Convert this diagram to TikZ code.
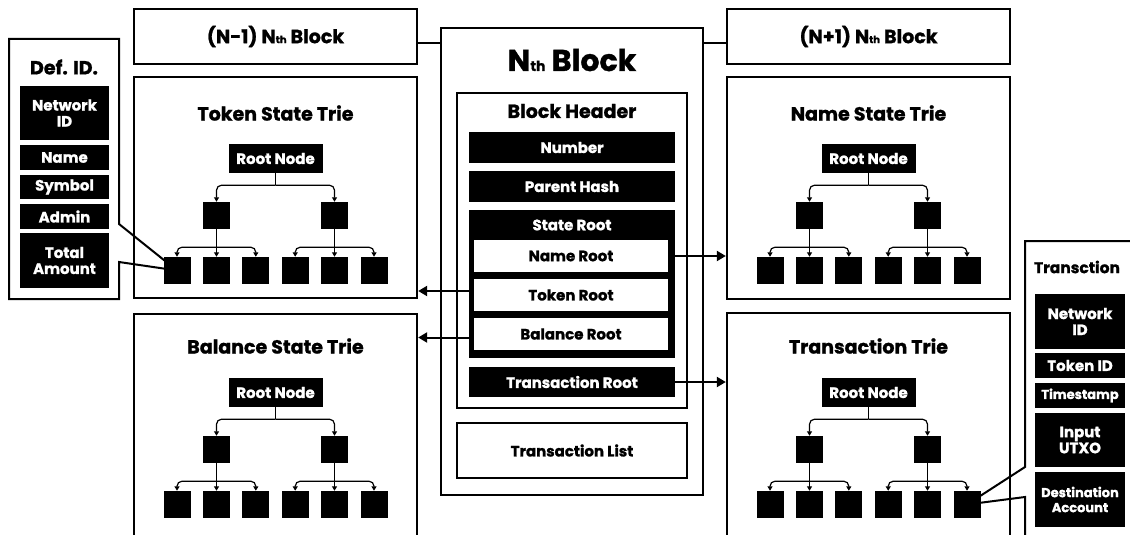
\documentclass[tikz,border=0pt]{standalone}
\usepackage{fontspec}
\setmainfont{Poppins}[BoldFeatures={FakeBold=1.2}]
\usetikzlibrary{arrows.meta}
\pgfdeclarelayer{bg}
\pgfsetlayers{bg,main}
\newcommand{\myttl}{\fontsize{19}{21}\selectfont\bfseries}
\newcommand{\mylab}{\fontsize{15}{16}\selectfont\bfseries}
\newcommand{\mysml}{\fontsize{13}{15}\selectfont\bfseries}
\newcommand{\myth}[1]{{\fontsize{#1}{#1}\selectfont th}}
\tikzset{
  frame/.style={draw, line width=2.3pt, inner sep=0pt},
  thinframe/.style={draw, line width=2pt, inner sep=0pt},
  blk/.style={fill=black, text=white, inner sep=0pt, font=\mylab, align=center},
  leafbox/.style={fill=black, minimum width=27pt, minimum height=27pt, inner sep=0pt},
  rootnode/.style={blk, minimum width=94pt, minimum height=29pt},
  tline/.style={line width=1.2pt},
  tarr/.style={line width=1.2pt, -{Triangle[length=4.5pt,width=5pt]}},
  bigarr/.style={line width=2pt, -{Triangle[length=9pt,width=10pt]}},
  ttlnode/.style={font=\myttl, inner sep=0pt},
}
\newcommand{\mytrie}[3]{%
  \node[rootnode] (#1root) at (#2,{158.5+#3}) {Root Node};
  \node[leafbox] (#1m1) at ({#2-59},{215.5+#3}) {};
  \node[leafbox] (#1m2) at ({#2+59},{215.5+#3}) {};
  \foreach \i/\dx in {1/-98.5,2/-59,3/-19.7,4/19.7,5/59,6/98.5}
    \node[leafbox] (#1l\i) at ({#2+(\dx)},{270.5+#3}) {};
  \draw[tline] (#1root.south) -- ([yshift=-12pt]#1root.south);
  \draw[tarr, rounded corners=5pt] ([yshift=-12pt]#1root.south) -| (#1m1.north);
  \draw[tarr, rounded corners=5pt] ([yshift=-12pt]#1root.south) -| (#1m2.north);
  \draw[tarr] (#1m1.south) -- (#1l2.north);
  \draw[tarr, rounded corners=5pt] ([yshift=-18pt]#1m1.south) -| (#1l1.north);
  \draw[tarr, rounded corners=5pt] ([yshift=-18pt]#1m1.south) -| (#1l3.north);
  \draw[tarr] (#1m2.south) -- (#1l5.north);
  \draw[tarr, rounded corners=5pt] ([yshift=-18pt]#1m2.south) -| (#1l4.north);
  \draw[tarr, rounded corners=5pt] ([yshift=-18pt]#1m2.south) -| (#1l6.north);
}
\begin{document}
\begin{tikzpicture}[x=1pt, y=-1pt]
\useasboundingbox (0,0) rectangle (1130,535);
\clip (0,0) rectangle (1130,535);

% neighbour blocks
\node[frame, minimum width=283pt, minimum height=55pt] (nm1) at (275.5,36.5)
  {\myttl (N-1) N\myth{10} Block};
\node[frame, minimum width=283pt, minimum height=55pt] (np1) at (868.5,36.5)
  {\myttl (N+1) N\myth{10} Block};

% trie frames
\node[frame, minimum width=283pt, minimum height=221pt] (tst) at (275.5,187.5) {};
\node[frame, minimum width=283pt, minimum height=231pt] (bst) at (275.5,429.5) {};
\node[frame, minimum width=283pt, minimum height=222pt] (nst) at (868.5,188) {};
\node[frame, minimum width=283pt, minimum height=232pt] (tt) at (868.5,429) {};

\node[ttlnode] (tstt) at (275.5,113) {Token State Trie};
\node[ttlnode] (bstt) at (275.5,346) {Balance State Trie};
\node[ttlnode] (nstt) at (868.5,113) {Name State Trie};
\node[ttlnode] (ttt) at (868.5,346) {Transaction Trie};

\mytrie{tok}{275.5}{0}
\mytrie{bal}{275.5}{234}
\mytrie{nam}{868.5}{0}
\mytrie{trx}{868.5}{234}

% Nth block
\node[thinframe, minimum width=262pt, minimum height=467pt] (nb) at (572,261.5) {};
\node[font=\fontsize{30}{32}\selectfont\bfseries, inner sep=0pt] (nbt) at (572,60) {N\myth{14} Block};
\node[thinframe, minimum width=230pt, minimum height=315pt] (bh) at (572,250.5) {};
\node[ttlnode] (bht) at (572,111) {Block Header};
\node[blk, minimum width=206pt, minimum height=31pt] (num) at (572,147.5) {Number};
\node[blk, minimum width=206pt, minimum height=31pt] (ph) at (572,186.5) {Parent Hash};
\node[blk, minimum width=206pt, minimum height=148pt] (sr) at (572,284) {};
\node[font=\mylab, text=white, inner sep=0pt] (srl) at (572,225) {State Root};
\node[fill=white, minimum width=194pt, minimum height=32pt, inner sep=0pt, font=\mylab] (nr) at (571,256) {Name Root};
\node[fill=white, minimum width=194pt, minimum height=32pt, inner sep=0pt, font=\mylab] (tr) at (571,295) {Token Root};
\node[fill=white, minimum width=194pt, minimum height=32pt, inner sep=0pt, font=\mylab] (br) at (571,334) {Balance Root};
\node[blk, minimum width=206pt, minimum height=30pt] (txr) at (572,382) {Transaction Root};
\node[thinframe, minimum width=230pt, minimum height=55pt, font=\mylab] (tl) at (572,450.5) {Transaction List};

% chain connectors
\draw[line width=2pt] ([yshift=-6.5pt]nm1.east) -- ([yshift=-6.5pt]nm1.east -| nb.west);
\draw[line width=2pt] ([yshift=-6.5pt]np1.west -| nb.east) -- ([yshift=-6.5pt]np1.west);

% root arrows
\draw[bigarr] (nr.east) -- (nr.east -| nst.west);
\draw[bigarr] (txr.east) -- (txr.east -| tt.west);
\draw[bigarr] ([yshift=4pt]tr.west) -- ([yshift=4pt]tr.west -| tst.east);
\draw[bigarr] ([yshift=-3.5pt]br.west) -- ([yshift=-3.5pt]br.west -| bst.east);

% callout panels
\begin{pgfonlayer}{bg}
\draw[line width=2pt, line join=miter] (119,224) -- (119,39) -- (9,39) -- (9,299) -- (119,299) -- (119,262) -- (tokl1.center) -- cycle;
\draw[line width=2pt] (1140,241) -- (1025,241) -- (1025,467) -- (trxl6.center) -- (1025,497) -- (1025,545);
\end{pgfonlayer}
\node[ttlnode] (defl) at (64,67) {Def. ID.};
\node[blk, minimum width=89pt, minimum height=54pt] (dnet) at (64.5,113) {Network\\ID};
\node[blk, minimum width=89pt, minimum height=25pt] (dname) at (64.5,157.5) {Name};
\node[blk, minimum width=89pt, minimum height=24pt] (dsym) at (64.5,187) {Symbol};
\node[blk, minimum width=89pt, minimum height=25pt] (dadm) at (64.5,216.5) {Admin};
\node[blk, minimum width=89pt, minimum height=55pt] (dtot) at (64.5,260.5) {Total\\Amount};

\node[font=\fontsize{15.5}{17}\selectfont\bfseries, inner sep=0pt] (txl) at (1077,267) {Transction};
\node[blk, minimum width=90pt, minimum height=55pt] (tnet) at (1080,321.5) {Network\\ID};
\node[blk, minimum width=90pt, minimum height=25pt] (ttok) at (1080,365.5) {Token ID};
\node[blk, minimum width=90pt, minimum height=25pt, font=\mysml] (ttim) at (1080,395.5) {Timestamp};
\node[blk, minimum width=90pt, minimum height=54pt] (tinp) at (1080,440) {Input\\UTXO};
\node[blk, minimum width=90pt, minimum height=55pt, font=\mysml] (tdst) at (1080,499.5) {Destination\\Account};
\end{tikzpicture}
\end{document}
